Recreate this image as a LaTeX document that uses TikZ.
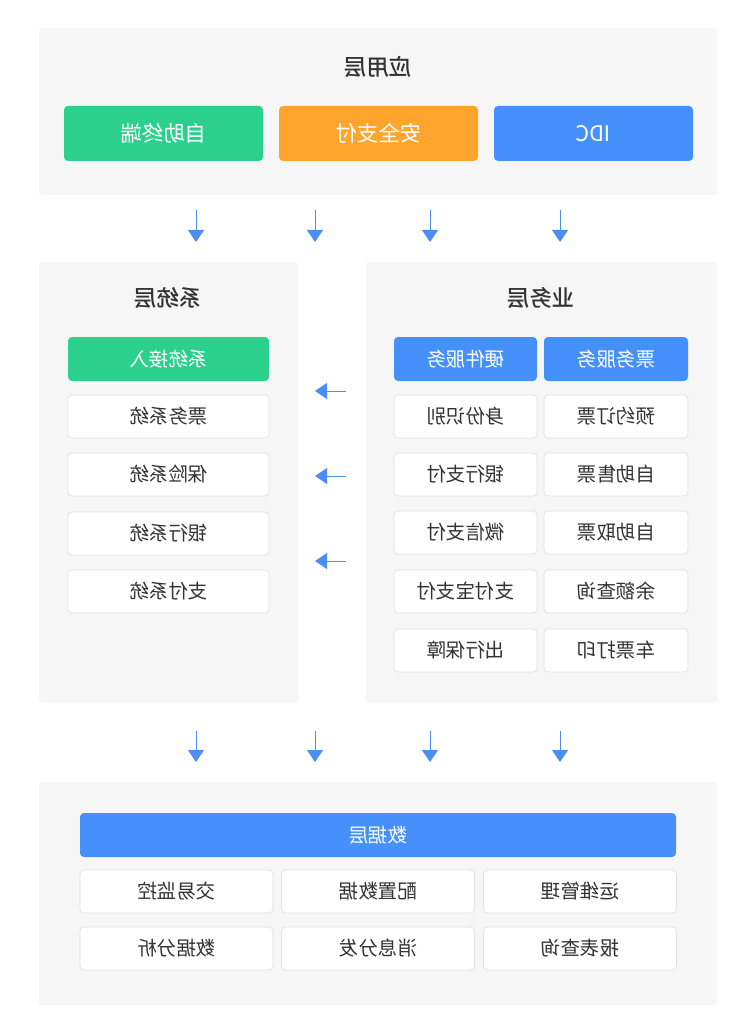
\documentclass[tikz,border=0pt]{standalone}
\usepackage{fontspec}
\setmainfont{Noto Sans CJK SC}
\newfontfamily\titlefont{Noto Sans CJK SC Medium}
\usetikzlibrary{arrows.meta}

\definecolor{panelgray}{HTML}{F6F6F6}
\definecolor{cellline}{HTML}{E2E2E2}
\definecolor{txtgray}{HTML}{333333}
\definecolor{bluebox}{HTML}{4690FC}
\definecolor{greenbox}{HTML}{2BD08C}
\definecolor{orangebox}{HTML}{FFA42C}
\definecolor{arrowblue}{HTML}{4A8EF5}

\tikzset{
  panel/.style={fill=panelgray, rounded corners=3pt},
  cell/.style={draw=cellline, fill=white, line width=0.8pt, rounded corners=4pt,
    text=txtgray, inner sep=0pt, xscale=-1, font=\fontsize{19.5}{22}\selectfont},
  colcell/.style={fill=#1, rounded corners=4pt, text=white, inner sep=0pt,
    xscale=-1, font=\fontsize{19.5}{22}\selectfont},
  bigcell/.style={colcell=#1, font=\fontsize{21.5}{24}\selectfont},
  layertitle/.style={text=txtgray, xscale=-1, font=\fontsize{22.5}{26}\titlefont},
  sz/.style 2 args={minimum width=#1pt, minimum height=#2pt},
  flow/.style={draw=arrowblue, line width=1pt,
    -{Triangle[length=12pt,width=16pt]}, fill=arrowblue}
}

\begin{document}
\begin{tikzpicture}[x=1pt,y=-1pt]
\useasboundingbox (0,0) rectangle (750,1032);
%\draw[help lines] (0,0) grid[step=50] (750,1032);

% panels
\fill[panel] (39,28) rectangle (717,195);
\fill[panel] (39,262) rectangle (298,703);
\fill[panel] (366,262) rectangle (717,703);
\fill[panel] (39,782) rectangle (717,1005);

% application layer
\node[layertitle] (app) at (378,67) {应用层};
\node[bigcell=greenbox, sz={199}{55}] (app1) at (163.5,133.5) {自助终端};
\node[bigcell=orangebox, sz={199}{55}] (app2) at (378.5,133.5) {安全支付};
\node[bigcell=bluebox, sz={199}{55}] (app3) at (593.5,133.5) {IDC};

% system layer
\node[layertitle] (sys) at (168,298) {系统层};
\node[colcell=greenbox, sz={201}{44}] (sys0) at (168.5,359) {系统接入};
\foreach \y/\t [count=\i] in {416.5/票务系统,474.5/保险系统,533.5/银行系统,591.5/支付系统}
  \node[cell, sz={201}{43}] (sys\i) at (168.5,\y) {\t};

% business layer
\node[layertitle] (biz) at (541,298) {业务层};
\node[colcell=bluebox, sz={143}{44}] (bizl0) at (465.5,359) {硬件服务};
\node[colcell=bluebox, sz={144}{44}] (bizr0) at (616,359) {票务服务};
\foreach \y/\a/\b [count=\i] in {416.5/身份识别/预约订票,474.5/银行支付/自助售票,
    532.5/微信支付/自助取票,591.5/支付宝支付/余额查询,650.5/出行保障/车票打印}{
  \node[cell, sz={143}{43}] (bizl\i) at (465.5,\y) {\a};
  \node[cell, sz={144}{43}] (bizr\i) at (616,\y) {\b};
}

% data layer
\node[colcell=bluebox, sz={596}{44}] (data) at (378,835) {数据层};
\foreach \x/\a/\b [count=\i] in {176.5/交易监控/数据分析,378/配置数据/消息分发,580/运维管理/报表查询}{
  \node[cell, sz={193}{43}] (dat\i a) at (\x,891.5) {\a};
  \node[cell, sz={193}{43}] (dat\i b) at (\x,948.5) {\b};
}

% arrows
\foreach \x [count=\i] in {196,315,430,560}{
  \coordinate (ua\i) at (\x,210); \coordinate (ub\i) at (\x,242);
  \coordinate (la\i) at (\x,731); \coordinate (lb\i) at (\x,762);
  \draw[flow] (ua\i) -- (ub\i);
  \draw[flow] (la\i) -- (lb\i);
}
\foreach \y [count=\i] in {391,476,561}{
  \coordinate (ra\i) at (346,\y); \coordinate (rb\i) at (315,\y);
  \draw[flow] (ra\i) -- (rb\i);
}
\end{tikzpicture}
\end{document}
